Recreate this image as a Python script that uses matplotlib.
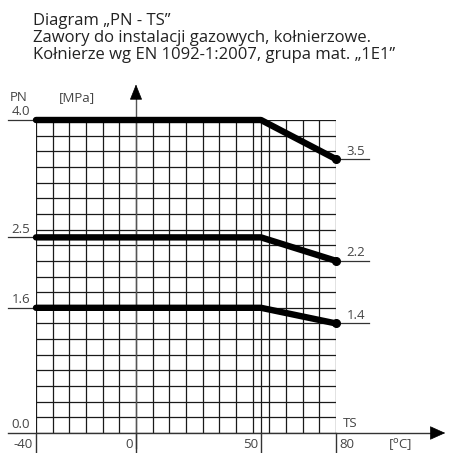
import matplotlib
matplotlib.use("Agg")
import matplotlib.pyplot as plt
import numpy as np

# ---- data ----
temps = [-40, 50, 80]
pn_40 = [4.0, 4.0, 3.5]
pn_25 = [2.5, 2.5, 2.2]
pn_16 = [1.6, 1.6, 1.4]
series = [pn_40, pn_25, pn_16]
left_labels = ["4.0", "2.5", "1.6"]
right_labels = ["3.5", "2.2", "1.4"]
x_ticks = [-40, 0, 50, 80]
x_tick_labels = ["-40", "0", "50", "80"]
title_lines = ["Diagram \u201ePN - TS\u201d",
               "Zawory do instalacji gazowych, ko\u0142nierzowe.",
               "Ko\u0142nierze wg EN 1092-1:2007, grupa mat. \u201e1E1\u201d"]

plt.rcParams['font.family'] = ['Open Sans', 'DejaVu Sans']

W, H = 449, 453
fig = plt.figure(figsize=(W / 100, H / 100), dpi=100)
# grid region in pixels: x 36..336, y 120..433 (from top)
ax = fig.add_axes([36 / W, (H - 433) / H, 300 / W, 313 / H])
ax.set_xlim(-40, 80)
ax.set_ylim(0, 4)
ax.axis('off')

ink = '#1a1a1a'
txt = '#444444'
fs = 9.5

# grid
vx = list(np.linspace(-40, 80, 19)) + [50]
ax.vlines(vx, 0, 4, color=ink, lw=0.9, zorder=1)
hy = np.linspace(0, 4, 21)
ax.hlines(hy, -40, 80, color=ink, lw=0.9, zorder=1)

# curves
for s in series:
    ax.plot(temps, s, color='black', lw=4.6, solid_capstyle='round',
            solid_joinstyle='round', zorder=4, clip_on=False)
    ax.plot([temps[-1]], [s[-1]], 'o', color='black', ms=5.5, zorder=5, clip_on=False)

# left leader lines and labels
for s, lab in zip(series, left_labels):
    ax.plot([-51.2, -40], [s[0], s[0]], color='#333333', lw=0.9, clip_on=False)
    ax.text(-46.0, s[0] + 0.02, lab, ha='center', va='bottom', fontsize=fs,
            color=txt, clip_on=False)

# right leader lines and labels
for s, lab in zip(series, right_labels):
    ax.plot([80, 93], [s[-1], s[-1]], color='#333333', lw=0.9, clip_on=False)
    ax.text(88.0, s[-1] + 0.02, lab, ha='center', va='bottom', fontsize=fs,
            color=txt, clip_on=False)

# axes with arrows
ax.plot([-51.2, 118], [0, 0], color='#333333', lw=1.0, clip_on=False)
ax.annotate('', xy=(124.8, 0), xytext=(117, 0),
            arrowprops=dict(arrowstyle='-|>,head_length=1.0,head_width=0.45',
                            color='black', lw=0.5), annotation_clip=False)
ax.plot([0, 0], [-0.19, 4.27], color='#555555', lw=1.0, clip_on=False)
ax.annotate('', xy=(0, 4.49), xytext=(0, 4.24),
            arrowprops=dict(arrowstyle='-|>,head_length=1.0,head_width=0.4',
                            color='black', lw=0.5), annotation_clip=False)

# x ticks
for xt, lab in zip(x_ticks, x_tick_labels):
    ax.plot([xt, xt], [0, -0.24], color='#333333', lw=1.0, clip_on=False)
    if xt == 80:
        ax.text(xt + 1.5, -0.15, lab, ha='left', va='center', fontsize=fs,
                color=txt, clip_on=False)
    else:
        ax.text(xt - 1.2, -0.15, lab, ha='right', va='center', fontsize=fs,
                color=txt, clip_on=False)
ax.text(-46.0, 0.02, '0.0', ha='center', va='bottom', fontsize=fs, color=txt, clip_on=False)
ax.text(85.5, 0.04, 'TS', ha='center', va='bottom', fontsize=fs, color=txt, clip_on=False)
ax.text(105.6, -0.15, '[$^{\\rm o}$C]', ha='center', va='center', fontsize=fs,
        color=txt, clip_on=False)
ax.text(-47, 4.29, 'PN', ha='center', va='center', fontsize=fs, color=txt, clip_on=False)
ax.text(-23.6, 4.29, '[MPa]', ha='center', va='center', fontsize=fs, color=txt, clip_on=False)

# title
for i, line in enumerate(title_lines):
    fig.text(33 / W, 1 - (21 + 17 * i) / H, line, ha='left', va='center',
             fontsize=12, color='#222222')

fig.savefig('out.png', dpi=100, facecolor='white')
